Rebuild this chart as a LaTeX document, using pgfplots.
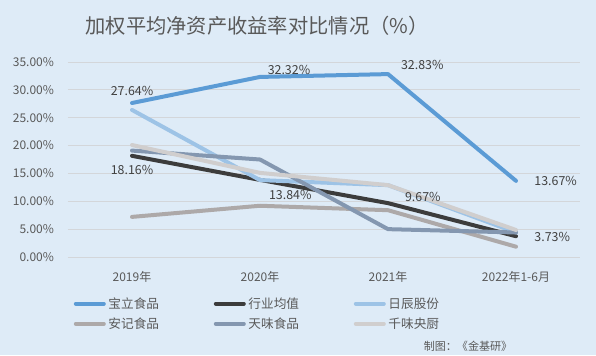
\documentclass[border=0pt]{standalone}
\usepackage{pgfplots}
\pgfplotsset{compat=1.18}
\usepackage{fontspec}
\setmainfont{Noto Sans CJK SC}
\definecolor{bg}{HTML}{DEEBF7}
\definecolor{gridc}{HTML}{D3D6DA}
\definecolor{tickc}{HTML}{595959}
\definecolor{labc}{HTML}{404040}
\definecolor{cBL}{HTML}{5B9BD5}
\definecolor{cHY}{HTML}{3C3C3C}
\definecolor{cRC}{HTML}{9DC3E6}
\definecolor{cAJ}{HTML}{ADA9A9}
\definecolor{cTW}{HTML}{8497B0}
\definecolor{cQW}{HTML}{D0CECE}
\begin{document}
\begin{tikzpicture}[x=0.75pt,y=0.75pt]
\fill[bg] (0,0) rectangle (596,355);
\node[font=\fontsize{15.2}{18}\selectfont, text=tickc] at (257,329) {加权平均净资产收益率对比情况（\%）};
\node[font=\fontsize{8.3}{10}\selectfont, text=tickc, anchor=east] at (517,9) {制图：《金基研》};
\begin{axis}[
  at={(51pt,73.5pt)}, anchor=south west,
  scale only axis, width=384pt, height=146.25pt,
  xmin=-0.5, xmax=3.5, ymin=0, ymax=35,
  xtick={0,1,2,3}, xticklabels={2019年,2020年,2021年,2022年1-6月},
  ytick={0,5,...,35},
  yticklabel={\pgfmathprintnumber[fixed,fixed zerofill,precision=2]{\tick}\%},
  /pgf/number format/assume math mode=true,
  ymajorgrids, grid style={draw=gridc, line width=0.75pt},
  axis line style={draw=none}, major tick length=0pt,
  tick label style={font=\fontsize{9}{10}\selectfont, text=tickc},
  yticklabel style={xshift=-7pt},
  xticklabel style={yshift=-7.5pt},
  clip=false,
  legend columns=3,
  legend cell align=left,
  legend style={at={(0.003,-0.185)}, anchor=north west, draw=none, fill=none,
    font=\fontsize{9.5}{11}\selectfont, text=tickc,
    nodes={inner sep=1pt}, row sep=3.5pt,
    /tikz/every odd column/.append style={column sep=1pt},
    /tikz/every even column/.append style={column sep=40pt}},
  legend image code/.code={\draw[#1] (0pt,0pt) -- (21pt,0pt);},
  every axis plot/.append style={line width=3pt, line join=round, line cap=round, mark=none},
  nodes near coords style={font=\fontsize{9.3}{10}\selectfont, text=labc},
]
\addplot[cBL] coordinates {(0,27.64) (1,32.32) (2,32.83) (3,13.67)};
\addlegendentry{宝立食品}
\addplot[cHY] coordinates {(0,18.16) (1,13.84) (2,9.67) (3,3.73)};
\addlegendentry{行业均值}
\addplot[cRC] coordinates {(0,26.4) (1,13.8) (2,12.9) (3,4.4)};
\addlegendentry{日辰股份}
\addplot[cAJ] coordinates {(0,7.2) (1,9.2) (2,8.4) (3,1.85)};
\addlegendentry{安记食品}
\addplot[cTW] coordinates {(0,19.1) (1,17.5) (2,5.0) (3,4.4)};
\addlegendentry{天味食品}
\addplot[cQW] coordinates {(0,20.1) (1,15.1) (2,12.9) (3,4.85)};
\addlegendentry{千味央厨}
% data labels
\addplot[draw=none, forget plot, point meta=explicit symbolic, nodes near coords,
  nodes near coords style={anchor=south, yshift=1pt}] coordinates {(0,27.64) [27.64\%]};
\addplot[draw=none, forget plot, point meta=explicit symbolic, nodes near coords,
  nodes near coords style={anchor=base west, xshift=1pt, yshift=1.5pt}] coordinates {(1,32.32) [32.32\%]};
\addplot[draw=none, forget plot, point meta=explicit symbolic, nodes near coords,
  nodes near coords style={anchor=base west, xshift=5pt, yshift=3.5pt}] coordinates {(2,32.83) [32.83\%]};
\addplot[draw=none, forget plot, point meta=explicit symbolic, nodes near coords,
  nodes near coords style={anchor=west, xshift=9pt, yshift=0pt}] coordinates {(3,13.67) [13.67\%]};
\addplot[draw=none, forget plot, point meta=explicit symbolic, nodes near coords,
  nodes near coords style={anchor=north, yshift=-2pt}] coordinates {(0,18.16) [18.16\%]};
\addplot[draw=none, forget plot, point meta=explicit symbolic, nodes near coords,
  nodes near coords style={anchor=north west, xshift=2pt, yshift=-3pt}] coordinates {(1,13.84) [13.84\%]};
\addplot[draw=none, forget plot, point meta=explicit symbolic, nodes near coords,
  nodes near coords style={anchor=west, xshift=8pt, yshift=4.5pt}] coordinates {(2,9.67) [9.67\%]};
\addplot[draw=none, forget plot, point meta=explicit symbolic, nodes near coords,
  nodes near coords style={anchor=west, xshift=9pt, yshift=-0.5pt}] coordinates {(3,3.73) [3.73\%]};
\end{axis}
\end{tikzpicture}
\end{document}
